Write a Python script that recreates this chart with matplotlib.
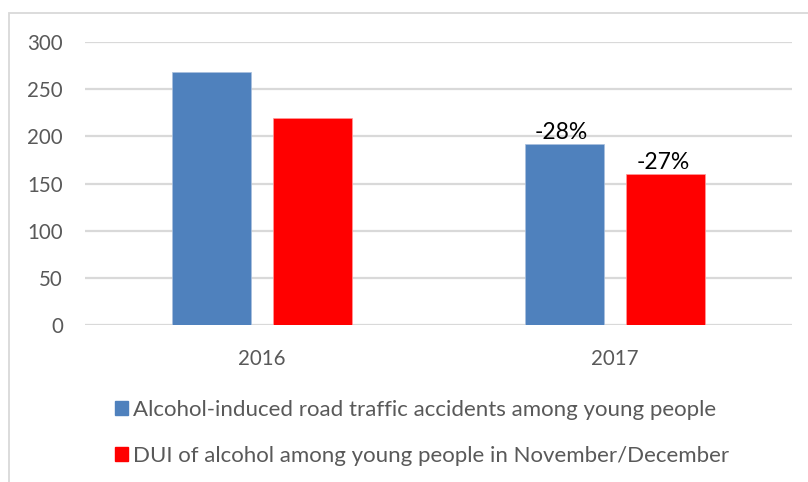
import numpy as np
import matplotlib.pyplot as plt
from matplotlib.patches import Rectangle, Patch

plt.rcParams['font.family'] = ['Lato', 'DejaVu Sans']

years = ['2016', '2017']
accidents = [268, 192]
dui = [220, 160]
change_labels = ['-28%', '-27%']
series_names = ['Alcohol-induced road traffic accidents among young people',
                'DUI of alcohol among young people in November/December']

blue = '#4F81BD'
red = '#FF0000'
grey_text = '#595959'
grid_grey = '#D9D9D9'

fig = plt.figure(figsize=(8.08, 4.82), dpi=100)
ax = fig.add_axes([85 / 808, 1 - 325.3 / 482, (792 - 85) / 808, (325.3 - 42) / 482])

x = np.arange(len(years))
w = 0.224
off = 0.143
b1 = ax.bar(x - off, accidents, w, color=blue, edgecolor='#A9C0DE', linewidth=0.5, zorder=3)
b2 = ax.bar(x + off, dui, w, color=red, edgecolor='#FF9A9A', linewidth=0.5, zorder=3)

# percentage change on the 2017 bars
for bars, lab in zip((b1, b2), change_labels):
    r = bars[1]
    ax.text(r.get_x() + r.get_width() / 2 - 3 / 353, r.get_height() + 1, lab,
            ha='center', va='bottom', fontsize=16.5, color='black')

ax.set_xlim(-0.5, 1.5)
ax.set_ylim(0, 300)
ax.set_yticks(range(0, 301, 50))
ax.set_xticks(x)
ax.set_xticklabels(years)
ax.tick_params(axis='y', length=0, pad=16, labelsize=14.8, labelcolor=grey_text)
ax.tick_params(axis='x', length=0, pad=17, labelsize=14.8, labelcolor=grey_text)
ax.grid(axis='y', color=grid_grey, linewidth=1.6, zorder=0)
for s in ax.spines.values():
    s.set_visible(False)

# chart area border, cut off at the right and bottom edge
fig.patches.append(Rectangle((8.5 / 808, -0.1), 1.2, (482 - 13) / 482 + 0.1,
                             transform=fig.transFigure, fill=False,
                             edgecolor=grid_grey, linewidth=1.3))

handles = [Patch(color=blue), Patch(color=red)]
fig.legend(handles, series_names, loc='center left',
           bbox_to_anchor=(115 / 808, 1 - 433 / 482), frameon=False,
           fontsize=16, labelcolor=grey_text, handlelength=0.6, handleheight=0.6,
           handletextpad=0.22, labelspacing=1.15, borderpad=0, borderaxespad=0)

fig.savefig('out.png', dpi=100)
